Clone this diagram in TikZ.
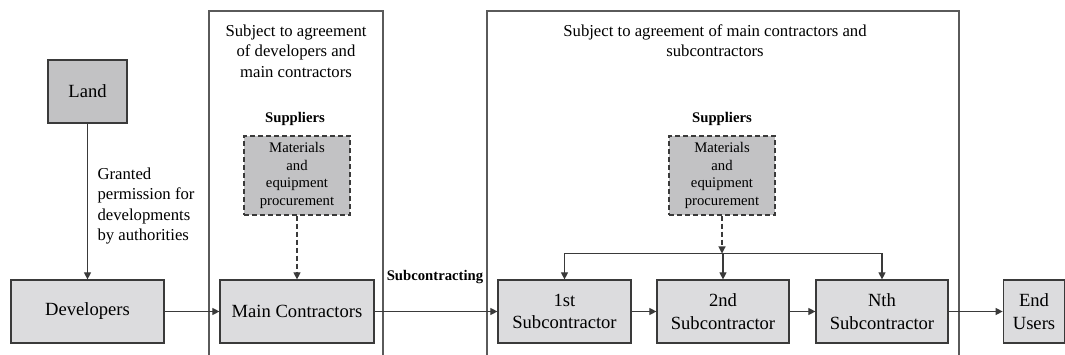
\documentclass[tikz,border=0pt]{standalone}
\usepackage{fontspec}
\setmainfont{LiberationSerif}[
  Extension=.ttf,
  UprightFont=*-Regular,
  BoldFont=*-Bold,
  ItalicFont=*-Italic,
  BoldItalicFont=*-BoldItalic]
\usetikzlibrary{arrows.meta}
\definecolor{lightbox}{HTML}{DCDCDE}
\definecolor{darkbox}{HTML}{C2C2C4}
\definecolor{edge}{HTML}{3A3A3A}
\definecolor{frame}{HTML}{5A5A5A}
\newcommand{\bigtxt}{\fontsize{18.6}{22.7}\selectfont}
\newcommand{\midtxt}{\fontsize{16.7}{20.3}\selectfont}
\newcommand{\smalltxt}{\fontsize{14.7}{17.6}\selectfont}
\tikzset{
  flowbox/.style={draw=edge, line width=1.2pt, fill=lightbox, inner sep=0pt,
    minimum height=63pt, align=center, font=\bigtxt},
  landbox/.style={flowbox, fill=darkbox},
  supplybox/.style={draw=edge, line width=1.2pt, fill=darkbox, inner sep=0pt,
    dash pattern=on 5pt off 3pt, minimum width=106pt, minimum height=79pt,
    align=center, font=\smalltxt},
  regionframe/.style={draw=frame, line width=1.3pt},
  flow/.style={draw=edge, line width=1.1pt, -{Triangle[length=7pt,width=7pt]}},
  plainline/.style={draw=edge, line width=1.1pt},
  dashflow/.style={flow, dash pattern=on 5pt off 3pt}
}
\begin{document}
\begin{tikzpicture}[x=1pt,y=-1pt]
\useasboundingbox (0,0) rectangle (1065,355);

% agreement regions, open at the bottom
\draw[regionframe] (209,358) -- (209,11) -- (383,11) -- (383,358);
\draw[regionframe] (487,358) -- (487,11) -- (959,11) -- (959,358);

\node[align=center, font=\midtxt] (agree1) at (296,51)
  {Subject to agreement\\of developers and\\main contractors};
\node[align=center, font=\midtxt] (agree2) at (715,41)
  {Subject to agreement of main contractors and\\subcontractors};

% main chain
\node[landbox, minimum width=79pt] (land) at (87.5,91.5) {Land};
\node[flowbox, minimum width=153pt] (dev) at (87.5,311.5) {Developers};
\node[flowbox, minimum width=154pt] (main) at (297,311.5) {Main Contractors};
\node[flowbox, minimum width=133pt] (sub1) at (564.5,311.5) {1st\\Subcontractor};
\node[flowbox, minimum width=132pt] (sub2) at (723,311.5) {2nd\\Subcontractor};
\node[flowbox, minimum width=132pt] (subn) at (882,311.5) {Nth\\Subcontractor};
\node[flowbox, minimum width=61.5pt] (users) at (1034,311.5) {End\\Users};

% suppliers
\node[font=\smalltxt\bfseries] (sup1) at (295,119) {Suppliers};
\node[supplybox] (mat1) at (297,175.5) {Materials\\and\\equipment\\procurement};
\node[font=\smalltxt\bfseries] (sup2) at (722,119) {Suppliers};
\node[supplybox] (mat2) at (722,175.5) {Materials\\and\\equipment\\procurement};

% labels
\node[anchor=west, align=left, font=\midtxt] (perm) at (94,206)
  {Granted\\permission for\\developments\\by authorities};
\node[font=\smalltxt\bfseries] (subc) at (435,277) {Subcontracting};

% connectors
\draw[flow] (land) -- (dev);
\draw[flow] (dev) -- (main);
\draw[dashflow] (mat1) -- (main);
\draw[flow] (main) -- (sub1);
\draw[flow] (sub1) -- (sub2);
\draw[flow] (sub2) -- (subn);
\draw[flow] (subn) -- (users);

\coordinate (bar) at (722,253.5);
\draw[dashflow] (mat2) -- (bar);
\draw[plainline] (sub1.north |- bar) -- (subn.north |- bar);
\draw[flow] (sub1.north |- bar) -- (sub1);
\draw[flow] (sub2.north |- bar) -- (sub2);
\draw[flow] (subn.north |- bar) -- (subn);
\end{tikzpicture}
\end{document}
